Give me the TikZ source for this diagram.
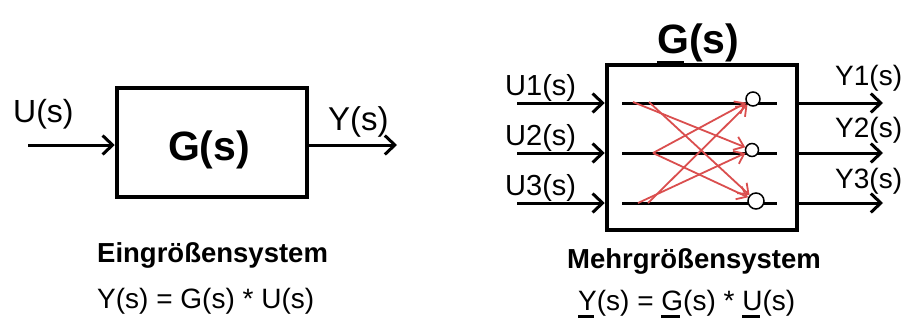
\documentclass[tikz,border=0pt]{standalone}
\usepackage{fontspec}
\setmainfont{Liberation Sans}
\usetikzlibrary{arrows.meta}
\definecolor{crossred}{RGB}{218,78,78}
\newcommand\ulsym[1]{\setbox0\hbox{#1}\rlap{\rule[-0.27em]{0.85\wd0}{0.08em}}#1}

\begin{document}
\begin{tikzpicture}[x=1pt,y=-1pt,
    sysbox/.style={draw,line width=4.5pt,minimum width=190pt},
    sig/.style={line width=3pt,-{Straight Barb[length=10pt,width=19pt]}},
    cross/.style={draw=crossred,line width=1.8pt,-{Straight Barb[length=9pt,width=14pt]}},
    sumpt/.style={circle,draw,fill=white,line width=1.5pt,inner sep=0pt},
    lbl/.style={inner sep=0pt,anchor=base west}]

    \useasboundingbox (0,0) rectangle (906,322);

    % single input / single output
    \node[sysbox,minimum height=109pt] (g1) at (212,142.5) {};
    \node[inner sep=0pt,anchor=base,font=\fontsize{41}{49}\bfseries\selectfont] (g1txt) at (209,160) {G(s)};
    \coordinate (u) at (28,145);
    \coordinate (y) at (397,145);
    \draw[sig] (u) -- (u -| g1.west);
    \draw[sig] (y -| g1.east) -- (y);
    \node[lbl,font=\fontsize{32}{38}\selectfont] (ulbl) at (13,122) {U(s)};
    \node[lbl,font=\fontsize{33}{40}\selectfont] (ylbl) at (328,130) {Y(s)};

    \node[lbl,font=\fontsize{27.5}{33}\bfseries\selectfont] (t1) at (97,262) {Eingrößensystem};
    \node[lbl,font=\fontsize{28}{34}\selectfont] (e1) at (97,308) {Y(s) = G(s) * U(s)};

    % multiple inputs / multiple outputs
    \node[sysbox,minimum height=165pt] (g2) at (702,147.5) {};
    \node[lbl,font=\fontsize{41}{49}\bfseries\selectfont] (g2txt) at (657,53) {\ulsym{G}(s)};

    \foreach \i/\yy/\ub/\yb/\ox/\oy/\d in {1/103/95/85/753/99/14,
                                          2/153/145/137/752/150/13,
                                          3/203/195/188/756/201/16} {
      \coordinate (in\i) at (517,\yy);
      \coordinate (out\i) at (883,\yy);
      \coordinate (l\i) at (622,\yy);
      \coordinate (r\i) at (777,\yy);
      \draw[sig] (in\i) -- (in\i -| g2.west);
      \draw[sig] (out\i -| g2.east) -- (out\i);
      \draw[line width=3pt] (l\i) -- (r\i);
      \node[sumpt,minimum size=\d pt] (o\i) at (\ox,\oy) {};
      \node[lbl,font=\fontsize{29}{35}\selectfont] (ulbl\i) at (505,\ub) {U\i(s)};
      \node[lbl,font=\fontsize{28}{34}\selectfont] (ylbl\i) at (835,\yb) {Y\i(s)};
    }

    \coordinate (s1a) at (633,102);
    \coordinate (s1b) at (649,102);
    \coordinate (s2) at (653,153);
    \coordinate (s3a) at (638,203);
    \coordinate (s3b) at (648,203);
    \draw[cross] (s1a) -- (o2);
    \draw[cross] (s1b) -- (o3);
    \draw[cross] (s2) -- (o1);
    \draw[cross] (s2) -- (o3);
    \draw[cross] (s3a) -- (o2);
    \draw[cross] (s3b) -- (o1);

    \node[lbl,font=\fontsize{27.5}{33}\bfseries\selectfont] (t2) at (567,268) {Mehrgrößensystem};
    \node[lbl,font=\fontsize{28}{34}\selectfont] (e2) at (578,310) {\ulsym{Y}(s) = \ulsym{G}(s) * \ulsym{U}(s)};
\end{tikzpicture}
\end{document}
